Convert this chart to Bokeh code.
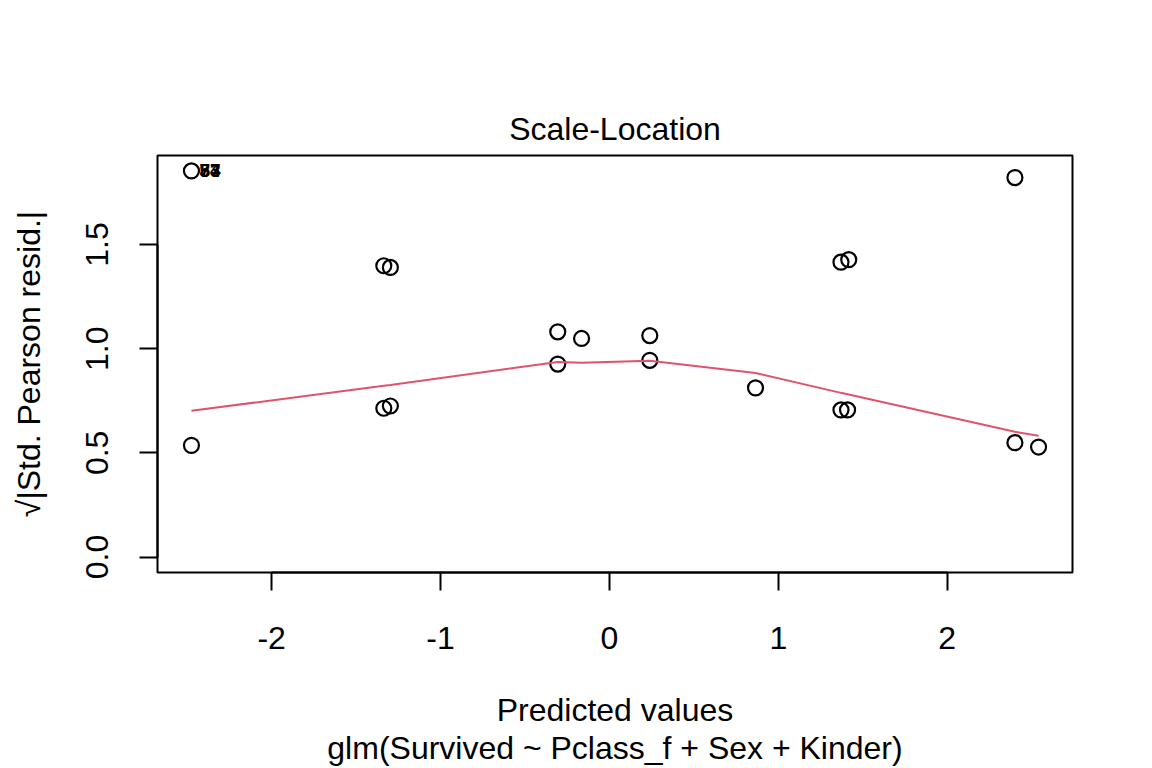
from bokeh.plotting import figure
from bokeh.models import Range1d, FixedTicker, Title, ColumnDataSource
from bokeh.embed import file_html
from bokeh.resources import INLINE
from bokeh.core.properties import value

# ---- data ----
fitted = [-2.475, -2.475, -1.336, -1.297, -1.336, -1.297, -0.306, -0.165, -0.306,
          0.239, 0.239, 0.865, 1.371, 1.417, 1.371, 1.410, 2.401, 2.401, 2.541]
sqrt_resid = [1.853, 0.536, 1.398, 1.390, 0.714, 0.725, 1.081, 1.049, 0.926,
              1.063, 0.944, 0.812, 1.415, 1.427, 0.706, 0.706, 1.821, 0.549, 0.528]
smooth_x = [-2.475, -1.336, -1.297, -0.306, -0.165, 0.239, 0.865, 1.371, 1.417, 2.401, 2.541]
smooth_y = [0.702, 0.822, 0.826, 0.936, 0.933, 0.942, 0.883, 0.788, 0.780, 0.601, 0.582]
id_labels = ["57", "83", "74"]
id_x = [-2.475, -2.475, -2.475]
id_y = [1.853, 1.853, 1.853]
x_ticks = [-2, -1, 0, 1, 2]
x_tick_labels = ["-2", "-1", "0", "1", "2"]
y_ticks = [0.0, 0.5, 1.0, 1.5]
y_tick_labels = ["0.0", "0.5", "1.0", "1.5"]

title_text = "Scale-Location"
x_label = "Predicted values"
sub_caption = "glm(Survived ~ Pclass_f + Sex + Kinder)"
y_label = "\u221a|Std. Pearson resid.|"

FONT = "Liberation Sans"
FS = "32px"

p = figure(width=1144, height=768, output_backend="svg", toolbar_location=None,
           x_range=Range1d(-2.676, 2.742), y_range=Range1d(-0.0741, 1.927),
           min_border_left=157, min_border_right=72, min_border_top=155,
           min_border_bottom=196)
p.background_fill_color = "white"
p.border_fill_color = "white"
p.grid.visible = False
p.outline_line_color = "black"
p.outline_line_width = 2

# title
p.title.text = title_text
p.title.align = "center"
p.title.text_font = FONT
p.title.text_font_size = FS
p.title.text_font_style = "normal"
p.title.text_color = "black"
p.title.standoff = 17

# axes
for ax in (p.xaxis[0], p.yaxis[0]):
    ax.axis_line_width = 2
    ax.major_tick_line_width = 2
    ax.major_tick_out = 18
    ax.major_tick_in = 0
    ax.minor_tick_line_color = None
    ax.major_label_text_font = FONT
    ax.major_label_text_font_size = FS
    ax.major_label_text_color = "black"
    ax.axis_label_text_font = FONT
    ax.axis_label_text_font_size = FS
    ax.axis_label_text_font_style = "normal"
    ax.axis_label_text_color = "black"

xa = p.xaxis[0]
xa.ticker = FixedTicker(ticks=x_ticks)
xa.bounds = (x_ticks[0], x_ticks[-1])
xa.major_label_overrides = {t: l for t, l in zip(x_ticks, x_tick_labels)}
xa.major_label_standoff = 36
xa.axis_label = x_label
xa.axis_label_standoff = 40

ya = p.yaxis[0]
ya.ticker = FixedTicker(ticks=y_ticks)
ya.bounds = (y_ticks[0], y_ticks[-1])
ya.major_label_overrides = {t: l for t, l in zip(y_ticks, y_tick_labels)}
ya.major_label_orientation = "vertical"
ya.major_label_standoff = 31
ya.axis_label = y_label
ya.axis_label_standoff = 37

sub = Title(text=sub_caption, align="center", text_font=FONT, text_font_size=FS,
            text_font_style="normal", text_color="black", standoff=-6)
p.add_layout(sub, "below")

# data
src = ColumnDataSource(dict(x=fitted, y=sqrt_resid))
p.scatter("x", "y", source=src, marker="circle", size=15, fill_color=None,
          line_color="black", line_width=2.2)
p.line(smooth_x, smooth_y, line_color="#DF536B", line_width=2)

lab = ColumnDataSource(dict(x=id_x, y=id_y, t=id_labels))
p.text("x", "y", text="t", source=lab, x_offset=8, text_align="left",
       text_baseline="middle", text_font=value(FONT), text_font_size="19px",
       text_font_style="bold", text_color="black")

open("out.html", "w").write(file_html(p, INLINE))
